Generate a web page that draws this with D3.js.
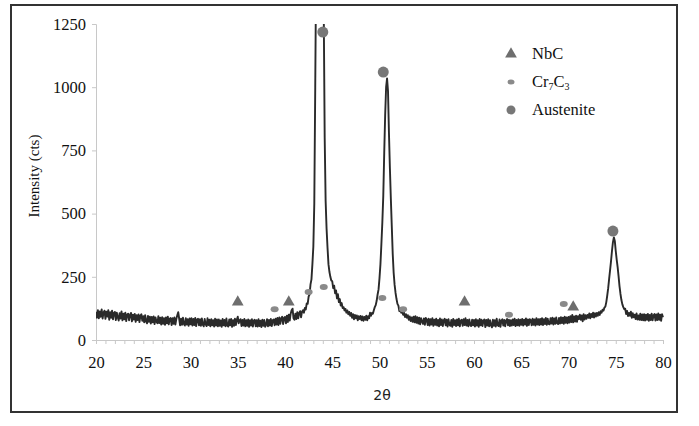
<!DOCTYPE html>
<head>
  <meta charset="utf-8">
  <script src="https://d3js.org/d3.v7.min.js"></script>
  <style>
    body { margin:0; padding:0; background:#fff; }
  </style>
</head>
<body>
  <svg id="chart" width="699" height="426"></svg>
  <script>
    // scan: 20.0 .. 80.0 deg, step 0.1 (one row = one degree)
    var angleStart = 20, angleStep = 0.1;
    var counts = [
      112, 88,118, 86,113, 92,121, 85,109,116,
       84,112, 93,118, 80,110, 88,116, 82,107,
      111, 79,108, 90, 77,106, 85,113, 78,104,
       82,108, 75,101,104, 78, 99,107, 74,100,
       81,103, 72, 98, 79,101, 71, 96,102, 76,
       94, 70, 98, 74, 66, 95, 72, 92, 65, 91,
       70, 93, 63, 89, 72, 66, 94, 67, 88, 61,
       90, 64, 86, 60, 89, 66, 92, 62, 84, 87,
       59, 86, 64, 89, 61, 83, 98,110, 85, 58,
       84, 60, 88, 63, 57, 86, 61, 82, 56, 85,
       62, 86, 57, 83, 59, 87, 55, 81, 84, 58,
       82, 56, 85, 60, 54, 83, 62, 55, 86, 59,
       80, 54, 82, 58, 78, 53, 84, 57, 81, 54,
       81, 56, 77, 52, 83, 58, 79, 54, 85, 57,
       53, 81, 58, 83, 52, 78, 56, 84, 59, 80,
       92, 66, 78, 82, 55, 79, 57, 83, 54, 78,
       56, 81, 52, 78, 57, 82, 53, 77, 80, 54,
       78, 53, 82, 55, 76, 51, 80, 56, 79, 52,
       60, 82, 54, 79, 57, 83, 55, 78, 81, 58,
       84, 61, 87, 59, 89, 64, 85, 92, 63, 87,
       91, 66, 96, 71,100, 77,104,118,124, 86,
       80,104, 83,110, 86,107,114, 90,112,118,
      108,127,121,145,143,172,180,220,240,300,
      370,540,1000,1500,1900,2100,2200,2150,2050,1900,
      1650,1300,800,550,440,365,300,270,250,235,
      232,205,215,185,196,165,181,150,162,136,
      146,126,130,117,123,108,117,102,111, 96,
      107, 88,102, 82, 99, 86, 97, 78, 94, 83,
       95, 78, 93, 76, 91, 80, 96, 78, 94, 86,
      108, 96,107,104,118,130,138,155,180,200,
      245,300,380,465,570,740,890,1000,1035,985,
      820,680,560,450,340,265,218,186,162,143,
      136,114,120,108,112,100,107, 91,102, 88,
       98, 80, 93, 75, 89, 72, 92, 70, 94, 68,
       90, 65, 88, 62, 86, 74, 64, 85, 60, 87,
       81, 59, 84, 57, 82, 61, 86, 56, 80, 60,
       84, 57, 79, 54, 85, 59, 81, 55, 78, 84,
       58, 80, 53, 82, 60, 56, 79, 52, 83, 59,
       78, 55, 81, 58, 84, 54, 77, 80, 56, 82,
       59, 86, 57, 79, 54, 81, 60, 55, 80, 58,
       79, 53, 82, 57, 78, 52, 83, 58, 80, 55,
       77, 81, 51, 79, 57, 82, 54, 78, 58, 50,
       80, 56, 78, 53, 84, 59, 55, 81, 52, 77,
       82, 57, 79, 54, 77, 83, 58, 80, 55, 78,
       57, 81, 59, 84, 55, 79, 58, 82, 56, 80,
       60, 83, 57, 80, 61, 85, 56, 81, 59, 82,
       79, 58, 84, 60, 81, 57, 86, 61, 82, 59,
       83, 61, 86, 59, 82, 63, 87, 60, 84, 64,
       62, 86, 65, 88, 61, 85, 64, 89, 66, 63,
       87, 65, 90, 67, 88, 64, 92, 68, 89, 66,
       91, 69, 94, 71, 99, 70, 93, 73, 96, 72,
       94, 83,100, 80, 97, 74,102, 81, 98, 84,
       99, 88,105, 86,103, 91,108, 89,106, 93,
      107, 96,110, 99,114,108,120,116,128,132,
      150,176,205,242,276,312,352,386,406,392,
      352,318,288,252,212,182,158,141,130,122,
      124,103,115, 95,107, 96,112, 88,106, 90,
      100, 83,105, 81, 97, 80,104, 79,101, 78,
      102, 77,100, 80,103, 76, 99, 79,104, 78,
       98,103, 77,101, 79,105, 80,100, 76,102,
       90
    ];

    // phase markers
    var nbcAngles = [35, 40.4, 59, 70.5];
    var nbcCounts = [150, 150, 150, 130];
    var crAngles  = [38.9, 42.5, 44.1, 50.3, 52.5, 63.7, 69.5];
    var crCounts  = [122, 190, 210, 166, 122, 100, 142];
    var ausAngles = [44.0, 50.4, 74.7];
    var ausCounts = [1218, 1060, 431];

    var xTicks = [20, 25, 30, 35, 40, 45, 50, 55, 60, 65, 70, 75, 80];
    var yTicks = [0, 250, 500, 750, 1000, 1250];

    var serif = '"Liberation Serif", "Times New Roman", serif';
    var svg = d3.select("#chart");
    var x = d3.scaleLinear().domain([20, 80]).range([96, 663]);
    var y = d3.scaleLinear().domain([0, 1250]).range([340, 24]);

    // outer frame
    svg.append("rect").attr("x", 11).attr("y", 5).attr("width", 666).attr("height", 407)
      .attr("fill", "none").attr("stroke", "#333").attr("stroke-width", 2);

    // axes
    var xAxis = svg.append("g").attr("transform", "translate(0,340)")
      .call(d3.axisBottom(x).tickValues(d3.range(20, 81, 1)).tickSize(4).tickFormat(""));
    xAxis.selectAll("path,line").attr("stroke", "#c8c8c8");
    svg.append("g").attr("transform", "translate(0,340)")
      .call(d3.axisBottom(x).tickValues(xTicks).tickSize(0).tickPadding(16))
      .call(function(g){ g.select(".domain").remove(); })
      .selectAll("text").style("font-size", "16.5px").style("font-family", serif).attr("fill", "#111");

    var yAxis = svg.append("g").attr("transform", "translate(96,0)")
      .call(d3.axisLeft(y).tickValues(yTicks).tickFormat(d3.format("d")).tickSize(4).tickPadding(6));
    yAxis.selectAll("path,line").attr("stroke", "#c8c8c8");
    yAxis.selectAll("text").style("font-size", "16.5px").style("font-family", serif).attr("fill", "#111");

    svg.append("text").attr("x", 382).attr("y", 400).attr("text-anchor", "middle")
      .style("font-family", "DejaVu Sans").style("font-size", "14px").attr("fill", "#222").text("2θ");
    svg.append("text").attr("transform", "translate(39,176) rotate(-90)")
      .attr("text-anchor", "middle").style("font-family", serif).style("font-size", "15px")
      .attr("fill", "#111").text("Intensity (cts)");

    // pattern
    svg.append("clipPath").attr("id", "plotClip").append("rect")
      .attr("x", 96).attr("y", y(1250)).attr("width", 570).attr("height", 340 - y(1250));
    var line = d3.line()
      .x(function(d, i){ return x(angleStart + i * angleStep); })
      .y(function(d){ return y(d); });
    svg.append("path").datum(counts).attr("clip-path", "url(#plotClip)")
      .attr("d", line).attr("fill", "none").attr("stroke", "#2a2a2a").attr("stroke-width", 1.9)
      .attr("stroke-linejoin", "round");

    // markers
    var tri = d3.symbol().type(d3.symbolTriangle).size(60);
    svg.selectAll(".nbc").data(nbcAngles).enter().append("path")
      .attr("d", tri).attr("fill", "#6e6e6e")
      .attr("transform", function(d, i){ return "translate(" + x(d) + "," + y(nbcCounts[i]) + ")"; });
    svg.selectAll(".cr").data(crAngles).enter().append("ellipse")
      .attr("cx", function(d){ return x(d); }).attr("cy", function(d, i){ return y(crCounts[i]); })
      .attr("rx", 4).attr("ry", 3).attr("fill", "#8a8a8a");
    svg.selectAll(".aus").data(ausAngles).enter().append("circle")
      .attr("cx", function(d){ return x(d); }).attr("cy", function(d, i){ return y(ausCounts[i]); })
      .attr("r", 5.5).attr("fill", "#777");

    // legend
    var lg = svg.append("g").style("font-family", serif).style("font-size", "16.5px");
    lg.append("path").attr("d", tri).attr("fill", "#6e6e6e").attr("transform", "translate(511,54)");
    lg.append("ellipse").attr("cx", 511).attr("cy", 82).attr("rx", 3.5).attr("ry", 2.5).attr("fill", "#8a8a8a");
    lg.append("circle").attr("cx", 511).attr("cy", 110).attr("r", 4.5).attr("fill", "#777");
    lg.append("text").attr("x", 532).attr("y", 59).attr("fill", "#111").text("NbC");
    var cr = lg.append("text").attr("x", 532).attr("y", 87).attr("fill", "#111");
    cr.append("tspan").text("Cr");
    cr.append("tspan").style("font-size", "10px").attr("dy", 3).text("7");
    cr.append("tspan").attr("dy", -3).text("C");
    cr.append("tspan").style("font-size", "10px").attr("dy", 3).text("3");
    lg.append("text").attr("x", 532).attr("y", 115).attr("fill", "#111").text("Austenite");
  </script>
</body>
